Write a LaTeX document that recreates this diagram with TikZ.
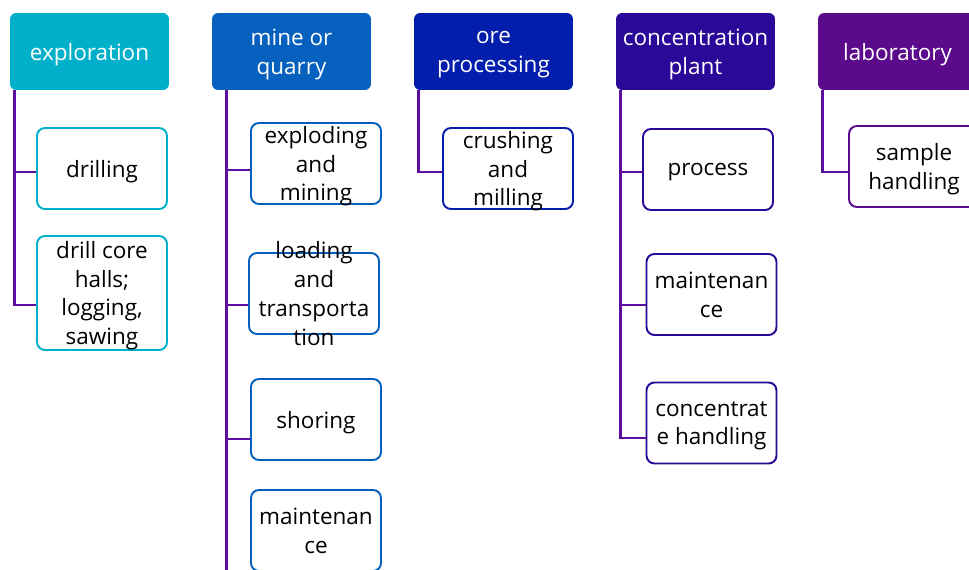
\documentclass[tikz,border=0pt]{standalone}
\usepackage{fontspec}
\setmainfont{Open Sans}
\usetikzlibrary{positioning}
\definecolor{explc}{RGB}{0,176,202}
\definecolor{minec}{RGB}{5,96,190}
\definecolor{orec}{RGB}{3,30,172}
\definecolor{concc}{RGB}{42,8,152}
\definecolor{labc}{RGB}{90,10,138}
\definecolor{linkc}{RGB}{92,14,160}

\begin{document}
\begin{tikzpicture}[
		x=0.02cm, y=-0.02cm,
		every node/.style={font=\fontsize{12.8}{16.4}\selectfont, align=center, inner sep=0pt, text depth=0pt},
		head/.style={fill=#1, text=white, rounded corners=3.5pt, minimum width=3.18cm, minimum height=1.54cm},
		kid/.style={draw=#1, fill=white, line width=1.1pt, rounded corners=4.5pt, minimum width=2.6cm, minimum height=1.62cm, text=black},
		conn/.style={draw=linkc, line width=1.4pt}
		]
		\clip (0,0) rectangle (969,569);
		\useasboundingbox (0,0) rectangle (969,569);
		
		% --- headers ---
		\node[head=explc] (expl) at (89.5,51.5) {exploration};
		\node[head=minec] (mine) at (291.5,51.5) {mine or\\quarry};
		\node[head=orec] (ore) at (493.5,51.5) {ore\\processing};
		\node[head=concc] (conc) at (695.5,51.5) {concentration\\plant};
		\node[head=labc] (lab) at (897.5,51.5) {laboratory};
		
		% --- exploration ---
		\node[kid=explc] (drill) at (102,168.5) {drilling};
		\node[kid=explc, minimum height=2.28cm] (core) at (102,293) {drill core\\halls;\\logging,\\sawing};
		\draw[conn] ([xshift=.1cm]expl.south west) |- ([yshift=-.07cm]drill.west);
		\draw[conn] ([xshift=.1cm]expl.south west) |- ([yshift=-.24cm]core.west);
		
		% --- mine or quarry ---
		\node[kid=minec] (blast) at (316,163.5) {};
		\node (blast-t) at (blast) {exploding\\and\\mining};
		\node[kid=minec] (load) at (314,293.5) {};
		\node (load-t) at (load) {loading\\and\\transporta\\tion};
		\node[kid=minec] (shore) at (316,419.5) {shoring};
		\node[kid=minec] (mmaint) at (316,530.5) {maintenan\\ce};
		\draw[conn] ([xshift=.3cm]mine.south west) |- ([yshift=-.13cm]blast.west);
		\draw[conn] ([xshift=.3cm]mine.south west) |- ([yshift=-.23cm]load.west);
		\draw[conn] ([xshift=.3cm]mine.south west) |- ([yshift=-.39cm]shore.west);
		\draw[conn] ([xshift=.3cm]mine.south west) |- ([yshift=-1cm]mmaint.west);
		
		% --- ore processing ---
		\node[kid=orec] (crush) at (508,168.5) {};
		\node (crush-t) at (crush) {crushing\\and\\milling};
		\draw[conn] ([xshift=.1cm]ore.south west) |- ([yshift=-.07cm]crush.west);
		
		% --- concentration plant ---
		\node[kid=concc] (proc) at (708,169.5) {process};
		\node[kid=concc] (cmaint) at (711.5,294.5) {maintenan\\ce};
		\node[kid=concc] (cstore) at (711.5,423) {concentrat\\e handling};
		\draw[conn] ([xshift=.1cm]conc.south west) |- ([yshift=-.05cm]proc.west);
		\draw[conn] ([xshift=.1cm]conc.south west) |- ([yshift=-.21cm]cmaint.west);
		\draw[conn] ([xshift=.1cm]conc.south west) |- ([yshift=-.3cm]cstore.west);
		
		% --- laboratory ---
		\node[kid=labc] (sample) at (914,166.5) {sample\\handling};
		\draw[conn] ([xshift=.1cm]lab.south west) |- ([yshift=-.11cm]sample.west);
	\end{tikzpicture}
\end{document}
